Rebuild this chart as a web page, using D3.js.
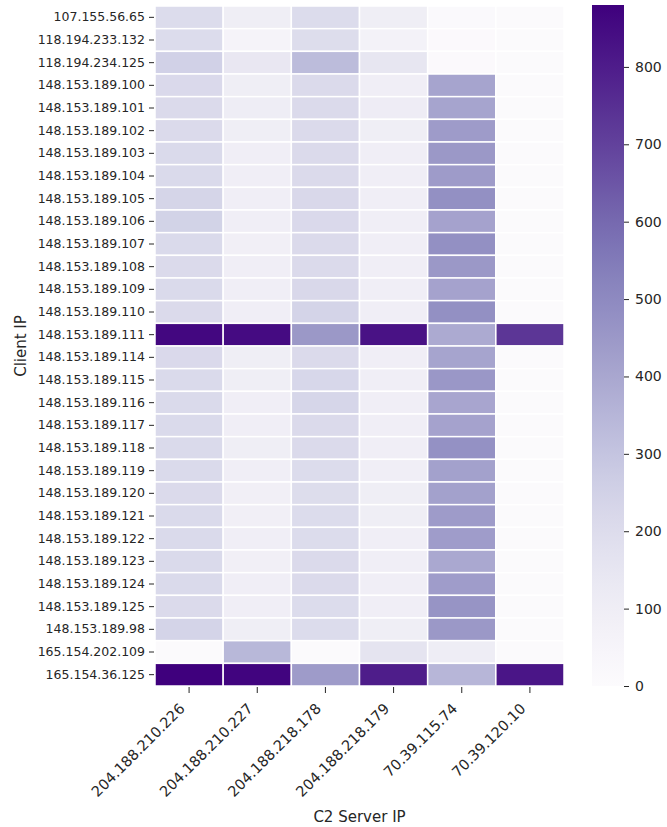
<!DOCTYPE html>
<html>
<head>
<meta charset="utf-8">
<script src="https://cdn.jsdelivr.net/npm/d3@7"></script>
<style>
  body { margin: 0; background: #fff; }
  text { font-family: "DejaVu Sans", sans-serif; fill: #262626; }
  .axis path { display: none; }
  .axis line { stroke: #262626; }
</style>
</head>
<body>
<div id="chart"></div>
<script>
// client IPs (rows)
const clients = [
  "107.155.56.65", "118.194.233.132", "118.194.234.125",
  "148.153.189.100", "148.153.189.101", "148.153.189.102", "148.153.189.103",
  "148.153.189.104", "148.153.189.105", "148.153.189.106", "148.153.189.107",
  "148.153.189.108", "148.153.189.109", "148.153.189.110", "148.153.189.111",
  "148.153.189.114", "148.153.189.115", "148.153.189.116", "148.153.189.117",
  "148.153.189.118", "148.153.189.119", "148.153.189.120", "148.153.189.121",
  "148.153.189.122", "148.153.189.123", "148.153.189.124", "148.153.189.125",
  "148.153.189.98", "165.154.202.109", "165.154.36.125"
];

// C2 servers (columns)
const servers = ["204.188.210.226", "204.188.210.227", "204.188.218.178",
                 "204.188.218.179", "70.39.115.74", "70.39.120.10"];

// one array per server column, same order as clients
const s204_188_210_226 = [205, 205, 250, 215, 210, 210, 212, 212, 235, 245, 212, 210, 212, 210, 860,
                          215, 212, 212, 212, 212, 212, 210, 212, 212, 212, 212, 210, 240, 8, 880];
const s204_188_210_227 = [100, 60, 140, 100, 105, 100, 95, 95, 95, 95, 90, 95, 95, 95, 850,
                          100, 100, 95, 95, 100, 95, 90, 90, 95, 90, 95, 95, 100, 345, 870];
const s204_188_218_178 = [205, 200, 330, 210, 210, 210, 210, 210, 220, 215, 210, 210, 220, 240, 450,
                          210, 225, 230, 210, 210, 205, 200, 205, 205, 210, 210, 205, 205, 8, 440];
const s204_188_218_179 = [100, 70, 150, 95, 110, 100, 95, 95, 95, 95, 95, 95, 95, 95, 830,
                          95, 95, 95, 95, 95, 95, 100, 100, 95, 95, 95, 95, 100, 160, 800];
const s70_39_115_74 = [15, 12, 12, 410, 410, 440, 450, 440, 480, 415, 480, 450, 415, 480, 390,
                       410, 455, 405, 415, 475, 420, 420, 440, 435, 395, 435, 465, 450, 105, 350];
const s70_39_120_10 = [10, 10, 10, 10, 10, 10, 10, 10, 10, 10, 10, 10, 10, 10, 730,
                       10, 10, 10, 10, 10, 10, 10, 10, 10, 10, 10, 10, 10, 10, 820];

const columns = [s204_188_210_226, s204_188_210_227, s204_188_218_178,
                 s204_188_218_179, s70_39_115_74, s70_39_120_10];
const colorbarTicks = [0, 100, 200, 300, 400, 500, 600, 700, 800];
const vmax = 880;

const W = 667, H = 827;
const margin = {left: 155, right: 564, top: 6, bottom: 686};

const svg = d3.select("#chart").append("svg")
  .attr("width", W).attr("height", H);

const x = d3.scaleBand().domain(servers).range([margin.left, margin.right]);
const y = d3.scaleBand().domain(clients).range([margin.top, margin.bottom]);
const color = d3.scaleSequential(d3.interpolatePurples).domain([0, vmax]);

// flatten into cells
let cells = [];
servers.forEach((s, j) => {
  clients.forEach((c, i) => {
    cells.push({server: s, client: c, value: columns[j][i]});
  });
});

svg.append("g").selectAll("rect")
  .data(cells)
  .enter().append("rect")
  .attr("x", d => x(d.server))
  .attr("y", d => y(d.client))
  .attr("width", x.bandwidth())
  .attr("height", y.bandwidth())
  .attr("fill", d => color(d.value))
  .attr("stroke", "#fff")
  .attr("stroke-width", 1.5);

// y axis
const yAxis = svg.append("g")
  .attr("class", "axis")
  .attr("transform", "translate(" + (margin.left - 1) + ",0)")
  .call(d3.axisLeft(y).tickSize(5).tickPadding(4));
yAxis.selectAll("text").style("font-size", "12.5px");

// x axis, labels rotated so their end sits under the tick
const xAxis = svg.append("g")
  .attr("class", "axis")
  .attr("transform", "translate(0," + (margin.bottom + 1) + ")")
  .call(d3.axisBottom(x).tickSize(6).tickPadding(4));
xAxis.selectAll("text")
  .style("font-size", "14.5px")
  .style("text-anchor", "end")
  .attr("x", 0)
  .attr("y", 0)
  .attr("dy", "0.35em")
  .attr("transform", "translate(-7,19) rotate(-45)");

// axis labels
svg.append("text")
  .attr("x", (margin.left + margin.right) / 2)
  .attr("y", 822)
  .attr("text-anchor", "middle")
  .style("font-size", "15px")
  .text("C2 Server IP");

svg.append("text")
  .attr("transform", "translate(26," + ((margin.top + margin.bottom) / 2) + ") rotate(-90)")
  .attr("text-anchor", "middle")
  .style("font-size", "15px")
  .text("Client IP");

// colorbar
const cbX = 592, cbW = 32;
const cbScale = d3.scaleLinear().domain([0, vmax]).range([margin.bottom, margin.top - 1]);

const grad = svg.append("defs").append("linearGradient")
  .attr("id", "cbgrad")
  .attr("x1", 0).attr("y1", 1).attr("x2", 0).attr("y2", 0);
d3.range(0, 1.0001, 0.05).forEach(t => {
  grad.append("stop")
    .attr("offset", t)
    .attr("stop-color", d3.interpolatePurples(t));
});

svg.append("rect")
  .attr("x", cbX)
  .attr("y", cbScale(vmax))
  .attr("width", cbW)
  .attr("height", cbScale(0) - cbScale(vmax))
  .attr("fill", "url(#cbgrad)");

const cbAxis = svg.append("g")
  .attr("class", "axis")
  .attr("transform", "translate(" + (cbX + cbW) + ",0)")
  .call(d3.axisRight(cbScale).tickValues(colorbarTicks).tickSize(5).tickPadding(6));
cbAxis.selectAll("text").style("font-size", "14px");
</script>
</body>
</html>
